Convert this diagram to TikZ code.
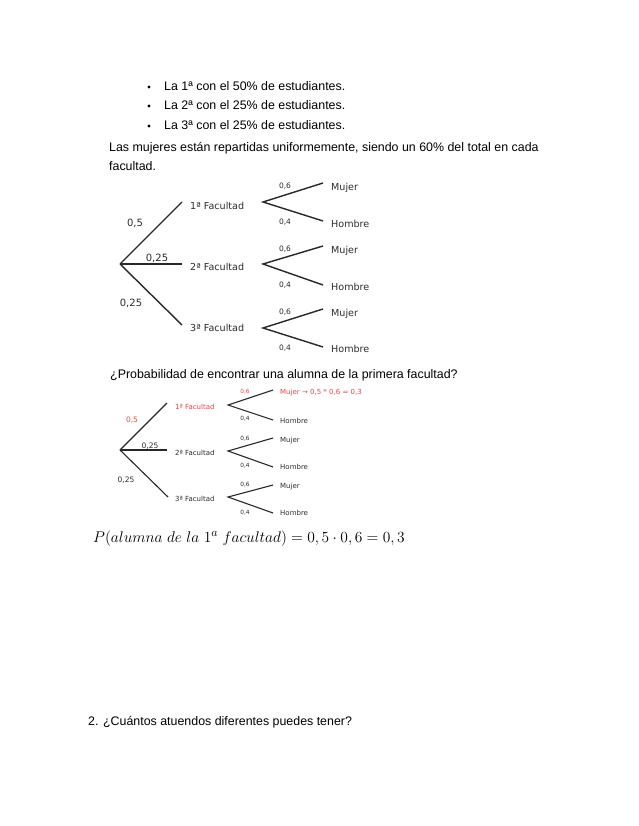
\documentclass[tikz,border=0pt]{standalone}
\usepackage{fontspec}
\setmainfont{Liberation Sans}
\newfontfamily\treefont{DejaVu Sans}
\usepackage{amsmath}
\usepackage{graphicx}
\definecolor{redlbl}{RGB}{226,72,72}
\definecolor{linegray}{RGB}{40,40,40}
\definecolor{txtgray}{RGB}{45,45,45}
\begin{document}
\begin{tikzpicture}[x=1pt,y=-1pt,
  body/.style={anchor=base west,inner sep=0pt,font=\fontsize{12.4}{14}\selectfont},
  tA/.style={anchor=west,inner sep=0pt,text=txtgray,font=\treefont\fontsize{9.6}{12}\selectfont},
  pA/.style={inner sep=0pt,text=txtgray,font=\treefont\fontsize{10}{12}\selectfont},
  qA/.style={inner sep=0pt,text=txtgray,font=\treefont\fontsize{7.5}{9}\selectfont},
  tB/.style={anchor=west,inner sep=0pt,text=txtgray,font=\treefont\fontsize{7}{9}\selectfont},
  pB/.style={inner sep=0pt,text=txtgray,font=\treefont\fontsize{7.5}{9}\selectfont},
  qB/.style={inner sep=0pt,text=txtgray,font=\treefont\fontsize{5.8}{7}\selectfont},
  brA/.style={draw=linegray,line width=1.4pt},
  brB/.style={draw=linegray,line width=1.1pt},
  dot/.style={circle,fill=black,inner sep=0pt,minimum size=3.2pt}]
\useasboundingbox (0,0) rectangle (638,826);
\fill[white] (0,0) rectangle (638,826);

% bullets
\node[dot] (b1) at (149,87) {};
\node[dot] (b2) at (149,106) {};
\node[dot] (b3) at (149,126) {};
\node[body] (l1) at (164,91) {La 1ª con el 50\% de estudiantes.};
\node[body] (l2) at (164,110) {La 2ª con el 25\% de estudiantes.};
\node[body] (l3) at (164,130) {La 3ª con el 25\% de estudiantes.};
\node[body] (p1) at (109,152) {Las mujeres están repartidas uniformemente, siendo un 60\% del total en cada};
\node[body] (p2) at (109,171) {facultad.};

% ---------- tree 1 ----------
\coordinate (r1) at (120,264);
\coordinate (a1) at (182,202);
\coordinate (a2) at (182,264);
\coordinate (a3) at (182,325);
\node[tA] (f1) at (190,206) {1ª Facultad};
\node[tA] (f2) at (190,267) {2ª Facultad};
\node[tA] (f3) at (190,328) {3ª Facultad};
\draw[brA] (r1) -- (a1);
\draw[brA] (r1) -- (a2);
\draw[brA] (r1) -- (a3);
\node[pA] (w1) at (135,223) {0,5};
\node[pA] (w2) at (157,258) {0,25};
\node[pA] (w3) at (131,303) {0,25};
\foreach \i/\ys/\yu/\yl in {1/202/183/221, 2/264/246/285, 3/328/309/347}{
  \coordinate (s\i) at (263,\ys);
  \coordinate (u\i) at (323,\yu);
  \coordinate (d\i) at (323,\yl);
  \draw[brA] (u\i) -- (s\i) -- (d\i);
}
\node[tA] (m1) at (331,188) {Mujer};
\node[tA] (h1) at (331,224) {Hombre};
\node[tA] (m2) at (331,251) {Mujer};
\node[tA] (h2) at (331,287) {Hombre};
\node[tA] (m3) at (331,314) {Mujer};
\node[tA] (h3) at (331,349) {Hombre};
\node[qA] (x1) at (285,186) {0,6};
\node[qA] (y1) at (285,222) {0,4};
\node[qA] (x2) at (285,249) {0,6};
\node[qA] (y2) at (285,285) {0,4};
\node[qA] (x3) at (285,312) {0,6};
\node[qA] (y3) at (285,348) {0,4};

% question
\node[body] (q) at (110,378) {¿Probabilidad de encontrar una alumna de la primera facultad?};

% ---------- tree 2 ----------
\coordinate (R1) at (120,450);
\coordinate (A1) at (167,403);
\coordinate (A2) at (167,450);
\coordinate (A3) at (168,497);
\draw[brB] (R1) -- (A1);
\draw[brB] (R1) -- (A2);
\draw[brB] (R1) -- (A3);
\node[tB,text=redlbl] (F1) at (175,407) {1ª Facultad};
\node[tB] (F2) at (175,453) {2ª Facultad};
\node[tB] (F3) at (175,499) {3ª Facultad};
\node[pB,text=redlbl] (W1) at (132,420) {0,5};
\node[pB] (W2) at (150,446) {0,25};
\node[pB] (W3) at (126,480) {0,25};
\foreach \i/\ys/\yu/\yl in {1/405/390/420, 2/451/438/467, 3/497/485/513}{
  \coordinate (S\i) at (228,\ys);
  \coordinate (U\i) at (273,\yu);
  \coordinate (D\i) at (273,\yl);
  \draw[brB] (U\i) -- (S\i) -- (D\i);
}
\node[tB,text=redlbl] (M1) at (280,393) {Mujer → 0,5 * 0,6 = 0,3};
\node[tB] (H1) at (280,421) {Hombre};
\node[tB] (M2) at (280,441) {Mujer};
\node[tB] (H2) at (280,467) {Hombre};
\node[tB] (M3) at (280,487) {Mujer};
\node[tB] (H3) at (280,513) {Hombre};
\node[qB,text=redlbl] (X1) at (245,392) {0,6};
\node[qB] (Y1) at (245,419) {0,4};
\node[qB] (X2) at (245,439) {0,6};
\node[qB] (Y2) at (245,466) {0,4};
\node[qB] (X3) at (245,485) {0,6};
\node[qB] (Y3) at (245,513) {0,4};

% formula
\node[anchor=base west,inner sep=0pt,font=\fontsize{15}{18}\selectfont] (fm) at (93,542)
  {\scalebox{1.075}{$P(alumna\ de\ la\ 1^{a}\ facultad)=0,5\cdot0,6=0,3$}};

% last line
\node[body] (last) at (88,725) {2. ¿Cuántos atuendos diferentes puedes tener?};
\end{tikzpicture}
\end{document}
